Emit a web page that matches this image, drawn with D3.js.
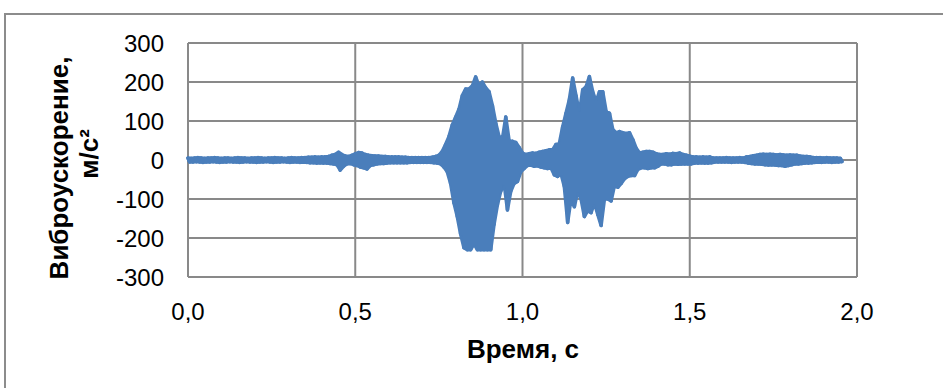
<!DOCTYPE html>
<html>
<head>
<meta charset="utf-8">
<script src="https://cdn.jsdelivr.net/npm/d3@7"></script>
<style>
  html, body { margin: 0; padding: 0; background: #fff; }
  svg { display: block; }
  text { font-family: "Liberation Sans", Arial, sans-serif; fill: #000; }
</style>
</head>
<body>
<svg id="chart" width="943" height="388"></svg>
<script>
// Sample grid (s) — envelope read every 0.01 s
const sampleStep = 0.01;
// Upper envelope of acceleration (m/s²) at each sample
const upper = [
  5,4,5,6,5,4,5,5,6,5, 4,5,5,4,5,6,5,5,4,5,
  5,6,5,4,5,5,6,5,5,4, 5,6,5,5,6, 6,7,7,8,7,
  8,8, 9,12,14,20,14,10,9,12, 16,19,18,14,12,11,10,10,9,9,
  8,8,8,8,7,7, 6,6,6,6,6,6,6, 7,9,12,22,40,60,90,
  110,130,165,182,182,190,213,190,200,185, 175,140,95,60,55,110,50,48,45,32,
  18,14,16,18,17,20,22,24,26,26, 40,42,85,120,155,210,165,120,180,188,
  214,175,150,175,175,125,120,78,70,73, 70,68,70,52,30,18,20,22,22,20,
  16,14,14,16,15,17,16,18,14,12, 10,8,8,7,8,7,8,5,5,5,
  5,6,5,5,5,6,5,8,9,11, 12,14,15,14,15,14,13,14,13,12,
  13,12,12,10,9,9,8,6,6,6, 5,6,5,5,5,4
];
// Lower envelope of acceleration (m/s²) at each sample
const lower = [
  -5,-5,-4,-5,-6,-5,-5,-4,-5,-6, -5,-5,-4,-5,-5,-6,-5,-4,-5,-5,
  -6,-5,-5,-4,-5,-6,-5,-5,-4,-5, -6,-5,-5,-6,-5, -6,-7,-7,-8,-7,
  -8,-8, -9,-10,-12,-26,-16,-10,-9,-12, -14,-18,-20,-23,-14,-12,-10,-9,-9,-8,
  -7,-7,-7,-7,-7,-7, -6,-6,-6,-6,-6,-6,-6, -7,-8,-10,-18,-30,-60,-110,
  -145,-190,-225,-230,-230,-215,-230,-230,-230,-230, -230,-165,-115,-80,-60,-128,-80,-60,-55,-30,
  -22,-14,-13,-16,-15,-18,-20,-22,-20,-38, -42,-35,-68,-160,-100,-120,-80,-100,-145,-130,
  -135,-110,-140,-168,-100,-100,-105,-65,-70,-60, -48,-42,-40,-40,-24,-20,-20,-22,-20,-20,
  -16,-10,-10,-12,-12,-10,-11,-10,-10,-10, -10,-8,-8,-7,-8,-8,-7,-5,-5,-5,
  -5,-5,-6,-5,-5,-5,-6,-8,-9,-10, -10,-11,-12,-13,-12,-13,-14,-14,-16,-14,
  -12,-10,-10,-9,-8,-8,-7,-6,-5,-6, -5,-5,-6,-5,-5,-4
];
const xTicks = [0, 0.5, 1.0, 1.5, 2.0];
const yTicks = [-300, -200, -100, 0, 100, 200, 300];
const xLabel = "Время, с";
const yLabel1 = "Виброускорение,";
const yLabel2 = "м/с²";

const svg = d3.select("#chart");
const x = d3.scaleLinear().domain([0, 2]).range([188, 857]);
const y = d3.scaleLinear().domain([-300, 300]).range([277, 43]);
const gridColor = "#898989";
const blue = "#4a7ebb";

// outer chart border
svg.append("rect").attr("x", 5).attr("y", 14).attr("width", 960).attr("height", 400)
  .attr("fill", "none").attr("stroke", "#8c8c8c").attr("stroke-width", 2);

// gridlines
const grid = svg.append("g");
grid.selectAll("line.h").data(yTicks).join("line")
  .attr("x1", x(0)).attr("x2", x(2)).attr("y1", d => y(d)).attr("y2", d => y(d))
  .attr("stroke", gridColor).attr("stroke-width", 2);
grid.selectAll("line.v").data(xTicks).join("line")
  .attr("y1", y(-300)).attr("y2", y(300)).attr("x1", d => x(d)).attr("x2", d => x(d))
  .attr("stroke", gridColor).attr("stroke-width", 2);

// signal: dense oscillation between upper (at t) and lower (at t + step/2) samples
const upPts = upper.map((u, i) => [i * sampleStep, u]);
const loPts = lower.map((l, i) => [i * sampleStep + sampleStep / 2, l]);
const pts = [];
upPts.forEach((p, i) => { pts.push(p); pts.push(loPts[i]); });
const lineGen = d3.line().x(d => x(d[0])).y(d => y(d[1]));

// filled envelope (the oscillation is too dense to show gaps)
svg.append("path")
  .attr("d", lineGen(upPts.concat(loPts.slice().reverse())) + "Z")
  .attr("fill", blue).attr("stroke", blue).attr("stroke-width", 3.5)
  .attr("stroke-linejoin", "round");
svg.append("path")
  .attr("d", lineGen(pts))
  .attr("fill", "none").attr("stroke", blue).attr("stroke-width", 3.5)
  .attr("stroke-linejoin", "round").attr("stroke-linecap", "round");

// y axis tick labels
svg.append("g").selectAll("text").data(yTicks).join("text")
  .attr("x", 164).attr("y", d => y(d)).attr("dy", "0.36em")
  .attr("text-anchor", "end").attr("font-size", 24)
  .text(d => d3.format("d")(d).replace("−", "-"));

// x axis tick labels
svg.append("g").selectAll("text").data(xTicks).join("text")
  .attr("x", d => x(d)).attr("y", 320)
  .attr("text-anchor", "middle").attr("font-size", 24)
  .text(d => d.toFixed(1).replace(".", ","));

// axis titles
svg.append("text").attr("x", 523).attr("y", 358).attr("text-anchor", "middle")
  .attr("font-size", 26).attr("font-weight", "bold").text(xLabel);
svg.append("text").attr("transform", "translate(68,168) rotate(-90)")
  .attr("text-anchor", "middle").attr("font-size", 26).attr("font-weight", "bold").text(yLabel1);
svg.append("text").attr("transform", "translate(98,154) rotate(-90)")
  .attr("text-anchor", "middle").attr("font-size", 26).attr("font-weight", "bold").text(yLabel2);
</script>
</body>
</html>
